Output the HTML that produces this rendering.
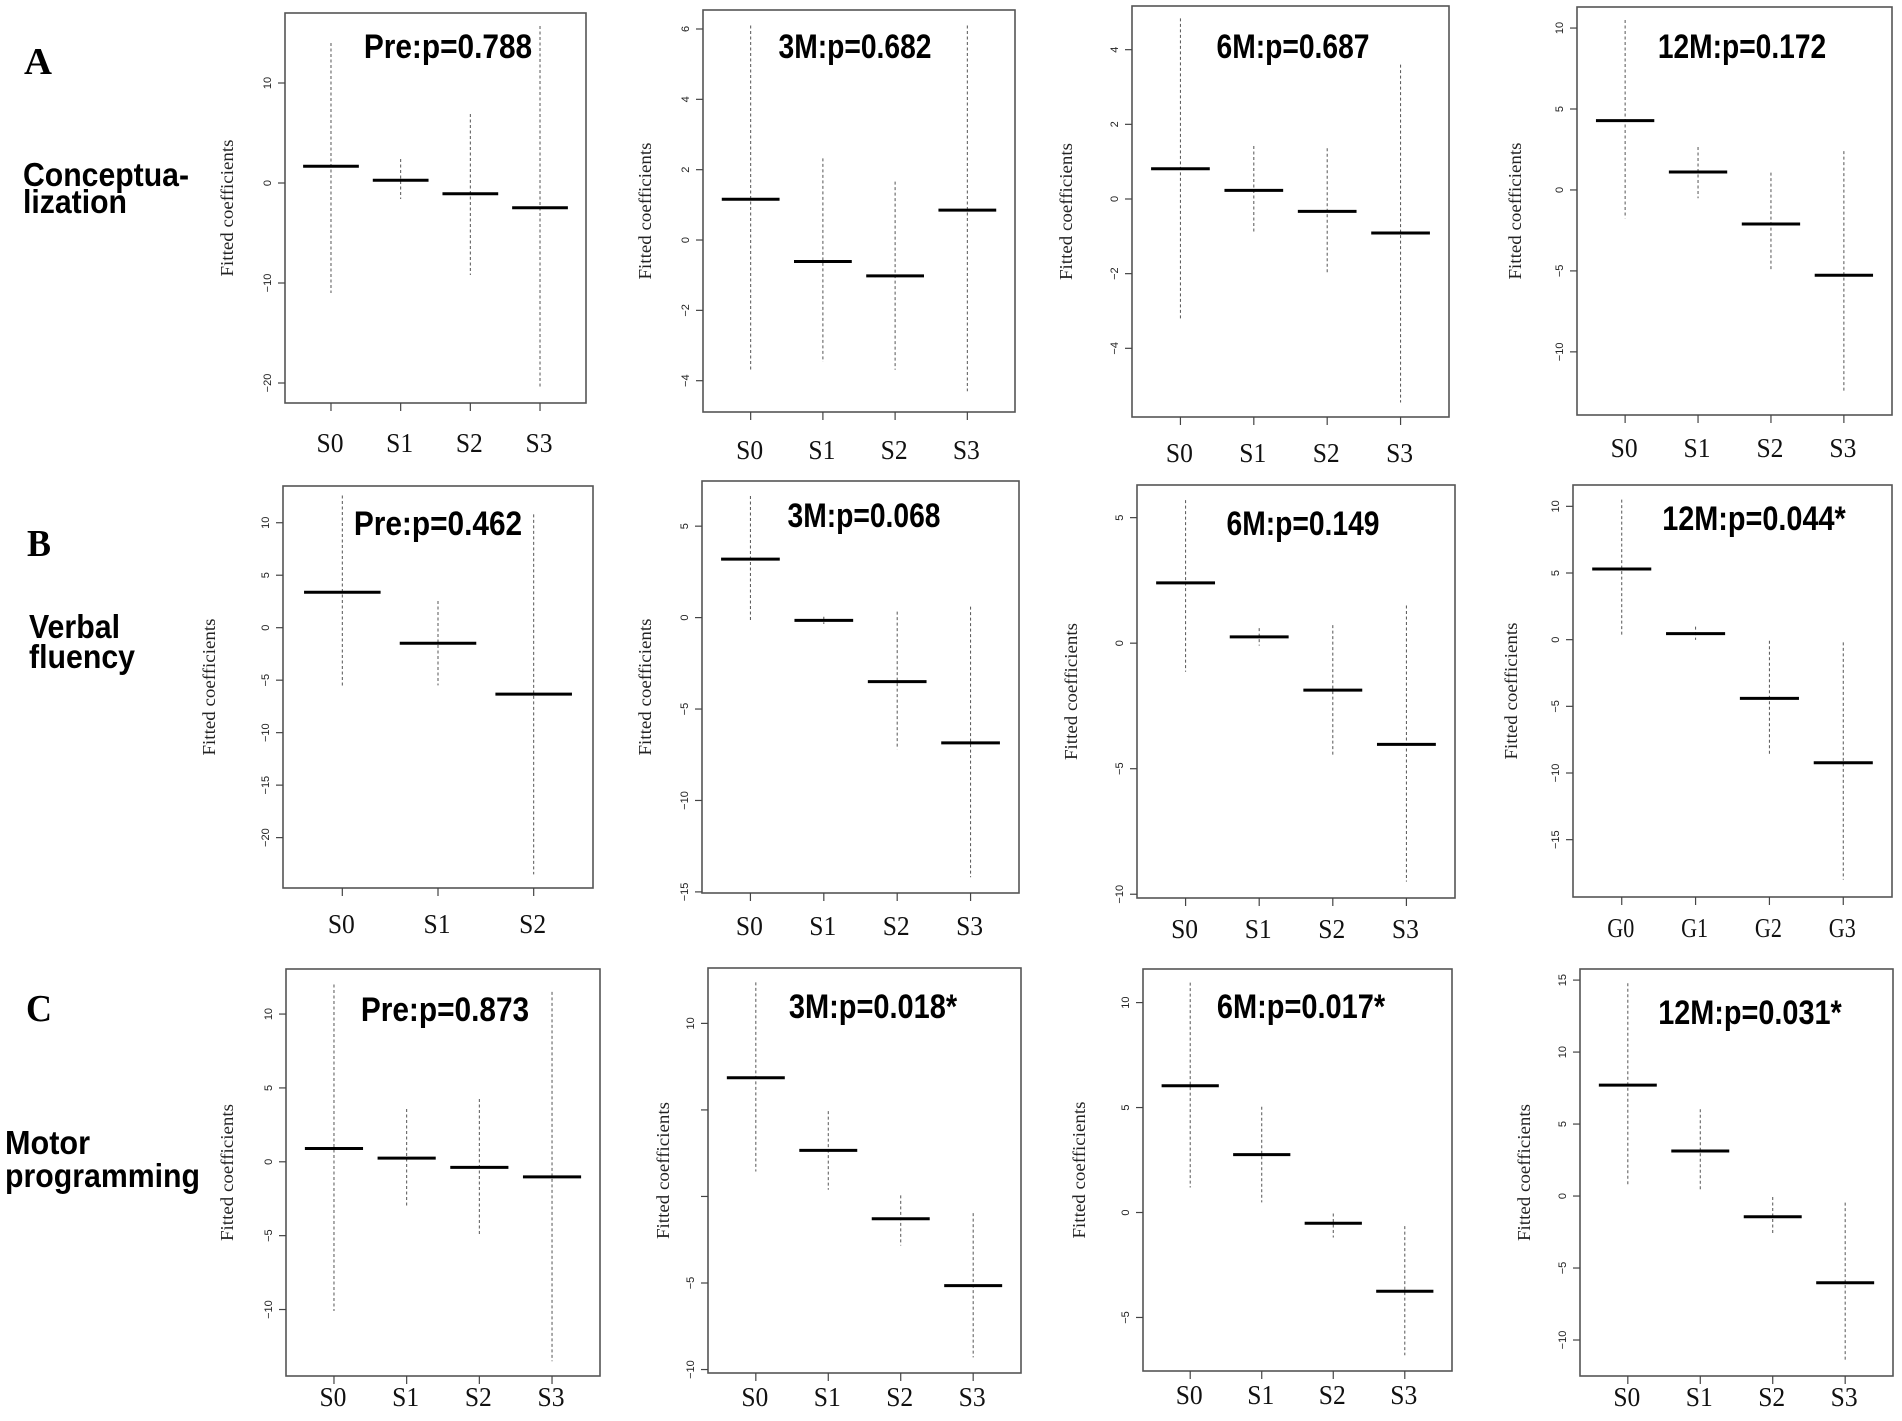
<!DOCTYPE html>
<html><head><meta charset="utf-8"><style>
html,body{margin:0;padding:0;background:#fff;}
svg{display:block;}
.tt{font-family:"Liberation Sans",sans-serif;font-weight:bold;}
.sr{font-family:"Liberation Serif",serif;}
</style></head><body>
<svg id="fig" width="1902" height="1421" viewBox="0 0 1902 1421" xmlns="http://www.w3.org/2000/svg">
<rect width="1902" height="1421" fill="#fff"/>
<g>
<text class="sr" x="24" y="74" font-size="38" font-weight="bold" textLength="28" lengthAdjust="spacingAndGlyphs">A</text>
<text class="tt" x="23" y="186" font-size="33" textLength="166" lengthAdjust="spacingAndGlyphs">Conceptua-</text>
<text class="tt" x="23" y="213" font-size="33" textLength="104" lengthAdjust="spacingAndGlyphs">lization</text>
<text class="sr" x="27" y="556" font-size="38" font-weight="bold" textLength="24" lengthAdjust="spacingAndGlyphs">B</text>
<text class="tt" x="29" y="638" font-size="33" textLength="91" lengthAdjust="spacingAndGlyphs">Verbal</text>
<text class="tt" x="29" y="668" font-size="33" textLength="106" lengthAdjust="spacingAndGlyphs">fluency</text>
<text class="sr" x="26" y="1021" font-size="38" font-weight="bold" textLength="26" lengthAdjust="spacingAndGlyphs">C</text>
<text class="tt" x="5" y="1154" font-size="33" textLength="85" lengthAdjust="spacingAndGlyphs">Motor</text>
<text class="tt" x="5" y="1187" font-size="33" textLength="195" lengthAdjust="spacingAndGlyphs">programming</text>
</g>
</svg>
<script>
// ---- data (one set of small arrays per panel) ----
const A1_cats=["S0","S1","S2","S3"], A1_mean=[1.67,0.27,-1.07,-2.47], A1_hi=[14,2.4,6.9,15.7], A1_lo=[-11,-1.6,-9.2,-20.5], A1_ticks=[10,0,-10,-20], A1_title="Pre:p=0.788";
const A2_cats=["S0","S1","S2","S3"], A2_mean=[1.16,-0.61,-1.02,0.85], A2_hi=[6.1,2.32,1.66,6.1], A2_lo=[-3.69,-3.47,-3.69,-4.3], A2_ticks=[6,4,2,0,-2,-4], A2_title="3M:p=0.682";
const A3_cats=["S0","S1","S2","S3"], A3_mean=[0.81,0.23,-0.33,-0.91], A3_hi=[4.84,1.42,1.36,3.6], A3_lo=[-3.2,-0.93,-2.02,-5.45], A3_ticks=[4,2,0,-2,-4], A3_title="6M:p=0.687";
const A4_cats=["S0","S1","S2","S3"], A4_mean=[4.28,1.11,-2.1,-5.27], A4_hi=[10.5,2.65,1.07,2.4], A4_lo=[-1.75,-0.51,-5.0,-12.4], A4_ticks=[10,5,0,-5,-10], A4_title="12M:p=0.172";
const B1_cats=["S0","S1","S2"], B1_mean=[3.38,-1.48,-6.33], B1_hi=[12.6,2.54,10.8], B1_lo=[-5.66,-5.5,-23.5], B1_ticks=[10,5,0,-5,-10,-15,-20], B1_title="Pre:p=0.462";
const B2_cats=["S0","S1","S2","S3"], B2_mean=[3.2,-0.15,-3.5,-6.85], B2_hi=[6.65,0.05,0.33,0.6], B2_lo=[-0.22,-0.35,-7.2,-14.2], B2_ticks=[5,0,-5,-10,-15], B2_title="3M:p=0.068";
const B3_cats=["S0","S1","S2","S3"], B3_mean=[2.4,0.25,-1.87,-4.03], B3_hi=[5.7,0.6,0.72,1.5], B3_lo=[-1.14,-0.1,-4.5,-9.5], B3_ticks=[5,0,-5,-10], B3_title="6M:p=0.149";
const B4_cats=["G0","G1","G2","G3"], B4_mean=[5.3,0.45,-4.4,-9.23], B4_hi=[10.5,0.98,-0.08,-0.2], B4_lo=[0.22,-0.02,-8.65,-18.0], B4_ticks=[10,5,0,-5,-10,-15], B4_title="12M:p=0.044*";
const C1_cats=["S0","S1","S2","S3"], C1_mean=[0.9,0.25,-0.38,-1.02], C1_hi=[12.0,3.57,4.25,11.5], C1_lo=[-10.1,-2.98,-4.9,-13.5], C1_ticks=[10,5,0,-5,-10], C1_title="Pre:p=0.873";
const C2_cats=["S0","S1","S2","S3"], C2_mean=[6.86,2.66,-1.29,-5.15], C2_hi=[12.37,4.93,0.06,-0.96], C2_lo=[1.44,0.39,-2.83,-9.3], C2_ticks=[10,5,0,-5,-10], C2_title="3M:p=0.018*";
const C3_cats=["S0","S1","S2","S3"], C3_mean=[6.04,2.76,-0.51,-3.75], C3_hi=[10.95,5.04,-0.05,-0.65], C3_lo=[1.19,0.48,-1.19,-6.8], C3_ticks=[10,5,0,-5], C3_title="6M:p=0.017*";
const C4_cats=["S0","S1","S2","S3"], C4_mean=[7.7,3.13,-1.44,-6.02], C4_hi=[14.78,6.03,-0.07,-0.46], C4_lo=[0.7,0.46,-2.67,-11.4], C4_ticks=[15,10,5,0,-5,-10], C4_title="12M:p=0.031*";

// ---- layout (pixel geometry, not data) ----
const panels=[
 {id:"a1",cats:A1_cats,mean:A1_mean,hi:A1_hi,lo:A1_lo,ticks:A1_ticks,title:A1_title,box:[285,13,586,403],dom:[-22,17],tx:448,ty:58,yl:233,lo2:49,hide:[]},
 {id:"a2",cats:A2_cats,mean:A2_mean,hi:A2_hi,lo:A2_lo,ticks:A2_ticks,title:A2_title,box:[703,10,1015,412],dom:[-4.89,6.54],tx:855,ty:58,yl:651,lo2:47,hide:[]},
 {id:"a3",cats:A3_cats,mean:A3_mean,hi:A3_hi,lo:A3_lo,ticks:A3_ticks,title:A3_title,box:[1132,6,1449,417],dom:[-5.84,5.17],tx:1293,ty:58,yl:1072,lo2:45,hide:[]},
 {id:"a4",cats:A4_cats,mean:A4_mean,hi:A4_hi,lo:A4_lo,ticks:A4_ticks,title:A4_title,box:[1577,7,1892,415],dom:[-13.9,11.3],tx:1742,ty:58,yl:1521,lo2:42,hide:[]},
 {id:"b1",cats:B1_cats,mean:B1_mean,hi:B1_hi,lo:B1_lo,ticks:B1_ticks,title:B1_title,box:[283,486,593,888],dom:[-24.8,13.5],tx:438,ty:535,yl:215,lo2:45,hide:[]},
 {id:"b2",cats:B2_cats,mean:B2_mean,hi:B2_hi,lo:B2_lo,ticks:B2_ticks,title:B2_title,box:[702,481,1019,893],dom:[-15.06,7.47],tx:864,ty:527,yl:651,lo2:42,hide:[]},
 {id:"b3",cats:B3_cats,mean:B3_mean,hi:B3_hi,lo:B3_lo,ticks:B3_ticks,title:B3_title,box:[1137,485,1455,898],dom:[-10.15,6.3],tx:1303,ty:535,yl:1077,lo2:40,hide:[]},
 {id:"b4",cats:B4_cats,mean:B4_mean,hi:B4_hi,lo:B4_lo,ticks:B4_ticks,title:B4_title,box:[1573,485,1892,897],dom:[-19.3,11.6],tx:1754,ty:530,yl:1517,lo2:40,hide:[]},
 {id:"c1",cats:C1_cats,mean:C1_mean,hi:C1_hi,lo:C1_lo,ticks:C1_ticks,title:C1_title,box:[286,969,600,1376],dom:[-14.5,13.05],tx:445,ty:1021,yl:233,lo2:30,hide:[]},
 {id:"c2",cats:C2_cats,mean:C2_mean,hi:C2_hi,lo:C2_lo,ticks:C2_ticks,title:C2_title,box:[708,968,1021,1373],dom:[-10.2,13.2],tx:873,ty:1018,yl:669,lo2:33,hide:[5,0]},
 {id:"c3",cats:C3_cats,mean:C3_mean,hi:C3_hi,lo:C3_lo,ticks:C3_ticks,title:C3_title,box:[1143,969,1452,1371],dom:[-7.55,11.6],tx:1301,ty:1018,yl:1085,lo2:33,hide:[]},
 {id:"c4",cats:C4_cats,mean:C4_mean,hi:C4_hi,lo:C4_lo,ticks:C4_ticks,title:C4_title,box:[1580,969,1893,1376],dom:[-12.5,15.77],tx:1750,ty:1024,yl:1530,lo2:30,hide:[]}
];
const NS="http://www.w3.org/2000/svg";
const svg=document.getElementById("fig");
function mk(tag,attrs,parent){const e=document.createElementNS(NS,tag);for(const k in attrs)e.setAttribute(k,attrs[k]);parent.appendChild(e);return e;}
panels.forEach(p=>{
  const [x0,y0,x1,y1]=p.box, n=p.cats.length;
  const g=mk("g",{},svg);
  
  
  const yS=v=>y1-(v-p.dom[0])/(p.dom[1]-p.dom[0])*(y1-y0);
  const unit=(x1-x0)/(n*1.08);
  const xS=i=>x0+(i+0.5+0.04*n)*unit;
  const box=mk("rect",{x:x0,y:y0,width:x1-x0,height:y1-y0,fill:"none",stroke:"#555","stroke-width":1.6},g);
  
  
  p.ticks.forEach(t=>{
    const y=yS(t);
    const tk=mk("line",{x1:x0,x2:x0-7,y1:y,y2:y,stroke:"#444","stroke-width":1.2},g);
    
    
    if(p.hide.indexOf(t)<0){
      const lb=mk("text",{x:x0-14,y:y,"font-size":11,"font-family":"Liberation Sans, sans-serif","text-anchor":"middle",fill:"#222",transform:`rotate(-90 ${x0-14} ${y})`},g);
      lb.textContent=String(t).replace("-","\u2212");
      
      
    }
  });
  const cy=(y0+y1)/2;
  const yl=mk("text",{x:p.yl,y:cy,"font-size":18,"font-family":"Liberation Serif, serif","text-anchor":"middle",fill:"#222",textLength:137,lengthAdjust:"spacingAndGlyphs",transform:`rotate(-90 ${p.yl} ${cy})`},g);
  yl.textContent="Fitted coefficients";
  
  
  const ti=mk("text",{x:p.tx,y:p.ty,"font-size":34,class:"tt","text-anchor":"middle",fill:"#000",textLength:p.title.length*15.3,lengthAdjust:"spacingAndGlyphs"},g);
  ti.textContent=p.title;
  
  
  p.cats.forEach((c,i)=>{
    const x=xS(i);
    const xt=mk("line",{x1:x,x2:x,y1:y1,y2:y1+8,stroke:"#444","stroke-width":1.2},g);
    
    
    const xl=mk("text",{x:x-1,y:y1+p.lo2,"font-size":27,"font-family":"Liberation Serif, serif","text-anchor":"middle",fill:"#111",textLength:27,lengthAdjust:"spacingAndGlyphs"},g);
    xl.textContent=c;
    
    
    const wh=mk("line",{x1:x,x2:x,y1:yS(p.hi[i]),y2:yS(p.lo[i]),stroke:"#555","stroke-width":1,"stroke-dasharray":"3 2.5"},g);
    
    
    const m=yS(p.mean[i]);
    const ml=mk("line",{x1:x-0.4*unit,x2:x+0.4*unit,y1:m,y2:m,stroke:"#000","stroke-width":3},g);
    
    
  });
});
</script>
</body></html>
